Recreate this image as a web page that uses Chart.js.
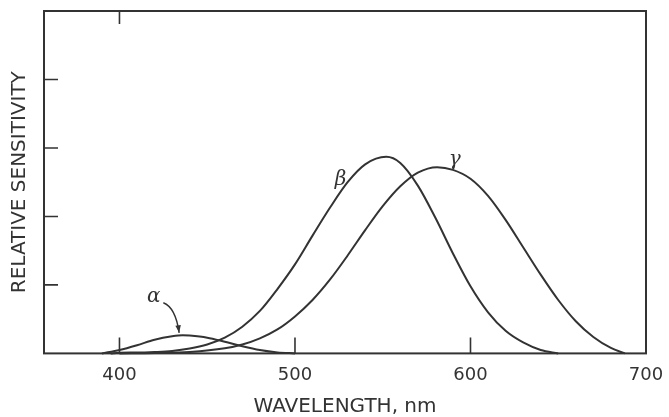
<!DOCTYPE html>
<html>
<head>
<meta charset="utf-8">
<script src="https://cdn.jsdelivr.net/npm/chart.js@4.4.0/dist/chart.umd.min.js"></script>
<style>
  html, body { margin: 0; padding: 0; background: #ffffff; }
  #wrap { width: 669px; height: 417px; }
</style>
</head>
<body>
<div id="wrap"><canvas id="c" width="669" height="417"></canvas></div>
<script>
// ---- data ----
const xTickLabels = [400, 500, 600, 700];
const xInnerTicks = [400, 500, 600];
const xTopTicks = [400];
const yInnerTicks = [1, 2, 3, 4];

const alphaNm  = [390, 400, 410, 420, 430, 436, 440, 450, 460, 470, 480, 490, 500];
const alphaVal = [0.0, 0.05, 0.12, 0.20, 0.25, 0.265, 0.26, 0.23, 0.17, 0.105, 0.05, 0.015, 0.0];

const betaNm  = [395, 400, 410, 420, 430, 440, 450, 460, 470, 480, 490, 500, 510, 520, 530, 540, 552, 560, 570, 580, 590, 600, 610, 620, 630, 640, 650];
const betaVal = [0.0, 0.01, 0.012, 0.02, 0.035, 0.07, 0.13, 0.23, 0.39, 0.62, 0.94, 1.30, 1.72, 2.13, 2.50, 2.76, 2.87, 2.78, 2.45, 1.98, 1.46, 0.98, 0.60, 0.33, 0.16, 0.05, 0.0];

const gammaNm  = [400, 420, 440, 460, 470, 480, 490, 500, 510, 520, 530, 540, 550, 560, 570, 581, 590, 600, 610, 620, 630, 640, 650, 660, 670, 680, 688];
const gammaVal = [0.0, 0.005, 0.02, 0.074, 0.13, 0.22, 0.35, 0.54, 0.78, 1.08, 1.43, 1.80, 2.15, 2.44, 2.64, 2.72, 2.68, 2.55, 2.30, 1.95, 1.55, 1.15, 0.78, 0.47, 0.24, 0.08, 0.0];

// label anchor points (data units)
const alphaLabel = {nm: 419.5, v: 0.82, text: 'α'};
const betaLabel  = {nm: 526,   v: 2.54, text: 'β'};
const gammaLabel = {nm: 591,   v: 2.83, text: 'γ'};
const alphaArrowFrom = {nm: 425,   v: 0.74};
const alphaArrowCtrl = {nm: 432,   v: 0.67};
const alphaArrowTo   = {nm: 434,   v: 0.30};

const INK = '#333333';
const zip = (xs, ys) => xs.map((x, i) => ({x: x, y: ys[i]}));

const framePlugin = {
  id: 'frame',
  afterDraw(chart) {
    const {ctx, chartArea: a, scales} = chart;
    const xs = scales.x, ys = scales.y;
    ctx.save();
    ctx.strokeStyle = INK;
    ctx.lineWidth = 2;
    ctx.strokeRect(a.left, a.top, a.right - a.left, a.bottom - a.top);
    ctx.lineWidth = 1.6;
    ctx.beginPath();
    xInnerTicks.forEach(t => {
      const px = xs.getPixelForValue(t);
      ctx.moveTo(px, a.bottom); ctx.lineTo(px, a.bottom - 16);
    });
    xTopTicks.forEach(t => {
      const px = xs.getPixelForValue(t);
      ctx.moveTo(px, a.top); ctx.lineTo(px, a.top + 13);
    });
    yInnerTicks.forEach(t => {
      const py = ys.getPixelForValue(t);
      ctx.moveTo(a.left, py); ctx.lineTo(a.left + 14, py);
    });
    ctx.stroke();

    // greek labels
    ctx.fillStyle = INK;
    ctx.font = 'italic 20px "DejaVu Serif"';
    ctx.textAlign = 'center';
    ctx.textBaseline = 'middle';
    [alphaLabel, betaLabel, gammaLabel].forEach(l => {
      ctx.fillText(l.text, xs.getPixelForValue(l.nm), ys.getPixelForValue(l.v));
    });

    // alpha arrow
    const fx = xs.getPixelForValue(alphaArrowFrom.nm), fy = ys.getPixelForValue(alphaArrowFrom.v);
    const cx = xs.getPixelForValue(alphaArrowCtrl.nm), cy = ys.getPixelForValue(alphaArrowCtrl.v);
    const tx = xs.getPixelForValue(alphaArrowTo.nm), ty = ys.getPixelForValue(alphaArrowTo.v);
    ctx.lineWidth = 1.4;
    ctx.beginPath();
    ctx.moveTo(fx, fy);
    ctx.quadraticCurveTo(cx, cy, tx, ty);
    ctx.stroke();
    const ang = Math.atan2(ty - cy, tx - cx);
    ctx.beginPath();
    ctx.moveTo(tx, ty);
    ctx.lineTo(tx - 8 * Math.cos(ang - 0.35), ty - 8 * Math.sin(ang - 0.35));
    ctx.lineTo(tx - 8 * Math.cos(ang + 0.35), ty - 8 * Math.sin(ang + 0.35));
    ctx.closePath();
    ctx.fill();
    ctx.restore();
  }
};

const lineStyle = {
  borderColor: INK,
  borderWidth: 2,
  pointRadius: 0,
  fill: false,
  cubicInterpolationMode: 'monotone',
  clip: false
};

new Chart(document.getElementById('c'), {
  type: 'line',
  data: {
    datasets: [
      Object.assign({label: 'alpha', data: zip(alphaNm, alphaVal)}, lineStyle),
      Object.assign({label: 'beta',  data: zip(betaNm, betaVal)}, lineStyle),
      Object.assign({label: 'gamma', data: zip(gammaNm, gammaVal)}, lineStyle)
    ]
  },
  options: {
    responsive: false,
    animation: false,
    devicePixelRatio: 1,
    layout: {padding: {left: 10, right: 23, top: 11, bottom: 0}},
    plugins: {legend: {display: false}, tooltip: {enabled: false}},
    scales: {
      x: {
        type: 'linear',
        min: 357, max: 700,
        afterBuildTicks: s => { s.ticks = xTickLabels.map(v => ({value: v})); },
        afterFit: s => { s.paddingRight = 0; s.paddingLeft = 0; },
        grid: {display: false, drawTicks: false},
        border: {display: false},
        ticks: {color: INK, font: {family: 'DejaVu Sans', size: 18}, padding: 11, maxRotation: 0},
        title: {display: true, text: 'WAVELENGTH, nm', color: INK,
                font: {family: 'DejaVu Sans', size: 20, lineHeight: 1.0}, padding: {top: 0, bottom: 0}}
      },
      y: {
        type: 'linear',
        min: 0, max: 5,
        grid: {display: false, drawTicks: false},
        border: {display: false},
        ticks: {display: false},
        title: {display: true, text: 'RELATIVE SENSITIVITY', color: INK,
                font: {family: 'DejaVu Sans', size: 20, lineHeight: 1.0}, padding: {top: 0, bottom: 14}}
      }
    }
  },
  plugins: [framePlugin]
});
</script>
</body>
</html>
